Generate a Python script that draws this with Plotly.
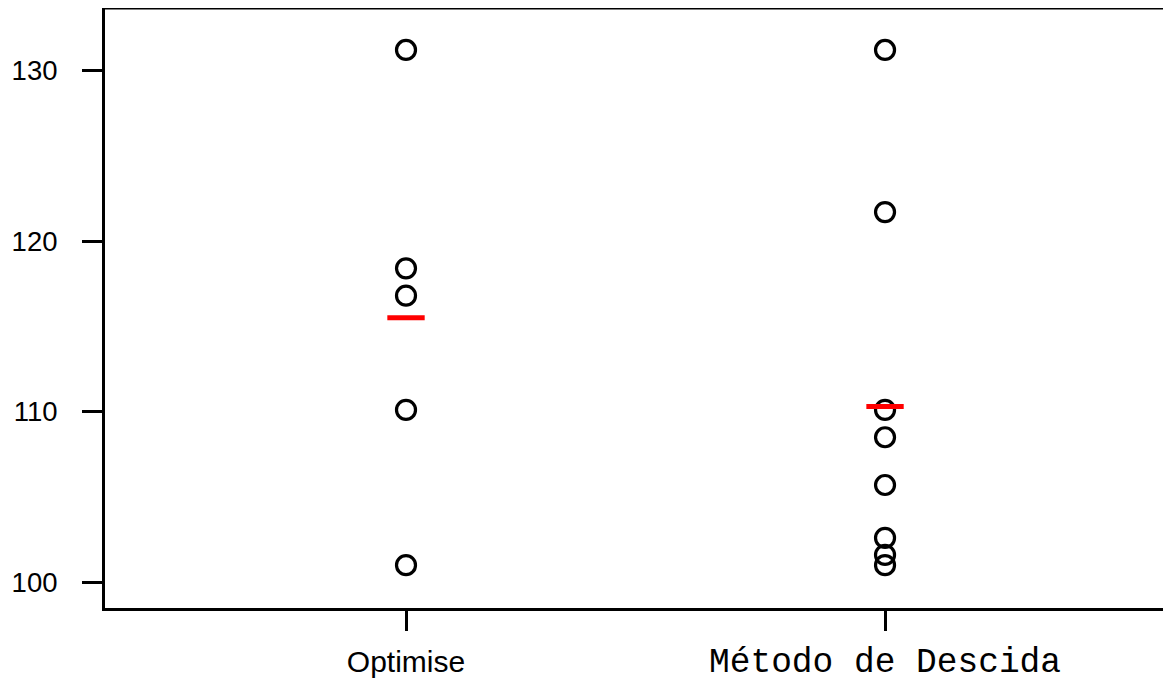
import plotly.graph_objects as go

categories = ["Optimise", "Método de Descida"]
optimise_vals = [131.2, 118.4, 116.8, 110.1, 101.0]
metodo_vals = [131.2, 121.7, 110.1, 108.5, 105.7, 102.6, 101.6, 101.0]
y_ticks = [100, 110, 120, 130]

series = [optimise_vals, metodo_vals]
means = [sum(v) / len(v) for v in series]

fig = go.Figure()
for i, vals in enumerate(series):
    pos = i + 1
    fig.add_trace(go.Scatter(
        x=[pos] * len(vals), y=vals, mode="markers",
        marker=dict(symbol="circle-open", size=19, color="black",
                    line=dict(width=3.2, color="black")),
        showlegend=False, hoverinfo="y"))
    fig.add_trace(go.Scatter(
        x=[pos - 0.039, pos + 0.039], y=[means[i], means[i]], mode="lines",
        line=dict(color="#ff0000", width=5), showlegend=False))

ticktext = [
    '<span style="font-family:Liberation Sans, Arial, sans-serif; font-size:30px">' + categories[0] + '</span>',
    '<span style="font-family:Courier New, Liberation Mono, monospace; font-size:34.5px">' + categories[1] + '</span>',
]

fig.update_layout(
    width=1163, height=674,
    margin=dict(l=97, r=0, t=0, b=69),
    paper_bgcolor="white", plot_bgcolor="white",
    font=dict(family="Liberation Sans, Arial, sans-serif", color="black", size=27),
    xaxis=dict(range=[0.3716, 2.597], tickmode="array", tickvals=[1, 2],
               ticktext=ticktext, showgrid=False, zeroline=False,
               showline=True, linecolor="black", linewidth=3,
               ticks="outside", ticklen=20, tickwidth=2.8, tickcolor="black",
               ticklabelstandoff=5, tickfont=dict(size=30)),
    yaxis=dict(range=[98.49, 133.66], tickmode="array", tickvals=y_ticks,
               showgrid=False, zeroline=False,
               showline=True, linecolor="black", linewidth=3,
               ticks="outside", ticklen=20, tickwidth=2.8, tickcolor="black",
               ticklabelstandoff=19, tickfont=dict(size=27.5)),
    shapes=[dict(type="line", xref="paper", yref="paper", x0=0, x1=1.02,
                 y0=1, y1=1, line=dict(color="black", width=3))],
)

fig.write_html("out.html")
